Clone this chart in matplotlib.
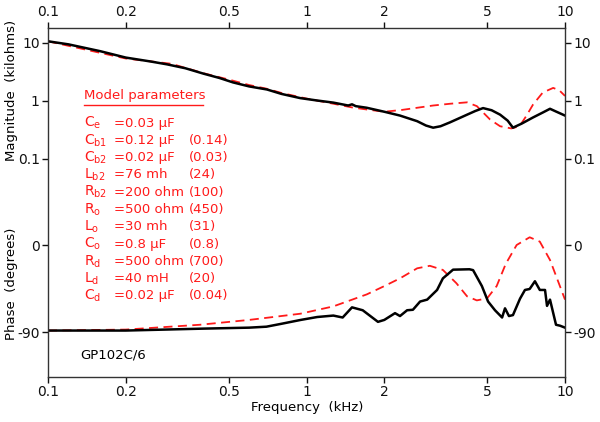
import numpy as np
import matplotlib.pyplot as plt
from matplotlib.ticker import NullLocator
from matplotlib.lines import Line2D

# magnitude, measured (kHz, kilohms)
mag_freq = [0.1, 0.12, 0.159, 0.2, 0.25, 0.289, 0.34, 0.4, 0.46, 0.52, 0.6, 0.703, 0.8, 0.946,
            1.1, 1.27, 1.45, 1.5, 1.55, 1.71, 2.0, 2.3, 2.68, 2.9, 3.09, 3.3, 3.59, 4.18, 4.5, 4.82,
            5.2, 5.61, 6.0, 6.29, 6.8, 7.52, 8.2, 8.75, 9.2, 10.0]
mag_meas = [10.5, 9.3, 7.1, 5.5, 4.7, 4.2, 3.6, 2.9, 2.45, 2.05, 1.75, 1.55, 1.3, 1.1,
            1.0, 0.92, 0.82, 0.86, 0.8, 0.75, 0.64, 0.55, 0.44, 0.37, 0.34, 0.36, 0.42, 0.57, 0.66, 0.74,
            0.68, 0.57, 0.45, 0.34, 0.4, 0.51, 0.62, 0.72, 0.65, 0.55]

# magnitude, model
magm_freq = [0.1, 0.2, 0.3, 0.4, 0.5, 0.6, 0.7, 0.8, 1.0, 1.27, 1.5, 1.71, 2.0, 2.35, 2.68, 3.09,
             3.6, 4.18, 4.56, 5.13, 5.61, 6.2, 6.67, 7.1, 7.52, 8.2, 9.0, 9.5, 10.0]
mag_model = [10.5, 5.3, 4.3, 2.95, 2.3, 1.85, 1.6, 1.35, 1.08, 0.88, 0.76, 0.7, 0.64, 0.69, 0.75, 0.82,
             0.88, 0.93, 0.8, 0.47, 0.36, 0.33, 0.36, 0.55, 0.85, 1.37, 1.65, 1.5, 1.2]

# phase, measured (degrees)
ph_freq = [0.1, 0.2, 0.4, 0.6, 0.7, 0.8, 0.95, 1.1, 1.27, 1.38, 1.5, 1.65, 1.89, 2.0, 2.2, 2.3,
           2.45, 2.58, 2.75, 2.93, 3.2, 3.37, 3.69, 4.27, 4.41, 4.77, 5.04, 5.36, 5.71, 5.86, 6.07,
           6.29, 6.7, 7.0, 7.3, 7.65, 7.99, 8.37, 8.52, 8.75, 9.23, 9.57, 10.0]
ph_meas = [-88, -88, -86, -85, -84, -81, -77, -74, -72.5, -74.5, -64, -67, -79, -77, -70, -73,
           -67, -66.5, -58, -56, -46, -34, -25, -24.6, -25.5, -42, -58, -67, -74.5, -65, -73,
           -72, -55, -46, -45, -37, -46, -46, -62.5, -56, -82, -83, -85]

# phase, model
phm_freq = [0.1, 0.2, 0.387, 0.6, 0.946, 1.27, 1.71, 2.0, 2.3, 2.68, 3.0, 3.37, 3.8, 4.18,
            4.56, 5.0, 5.44, 5.9, 6.5, 7.3, 7.99, 8.75, 9.25, 10.0]
ph_model = [-88, -87, -82, -77, -70.6, -63, -50.6, -42, -34, -23.6, -21, -25.3, -39, -52.6,
            -56.8, -54.6, -42, -19, 0.5, 8.5, 4.0, -15, -32, -56]

par_sym = ['C', 'C', 'C', 'L', 'R', 'R', 'L', 'C', 'R', 'L', 'C']
par_sub = ['e', 'b1', 'b2', 'b2', 'b2', 'o', 'o', 'o', 'd', 'd', 'd']
par_val = ['=0.03 μF', '=0.12 μF', '=0.02 μF', '=76 mh', '=200 ohm', '=500 ohm',
           '=30 mh', '=0.8 μF', '=500 ohm', '=40 mH', '=0.02 μF']
par_fit = ['', '(0.14)', '(0.03)', '(24)', '(100)', '(450)', '(31)', '(0.8)', '(700)', '(20)', '(0.04)']

xticks = [0.1, 0.2, 0.5, 1, 2, 5, 10]
xlabels = ['0.1', '0.2', '0.5', '1', '2', '5', '10']
mag_ticks = [10, 1, 0.1]
ph_ticks = [0, -90]


def ph_y(p):
    # phase stacked below magnitude: 90 degrees = 1.5 decades
    return -2.5 + np.asarray(p, dtype=float) / 60.0


W, H = 600, 422
plt.rcParams['mathtext.fontset'] = 'dejavusans'
fig = plt.figure(figsize=(W / 100, H / 100), dpi=100)
ax = fig.add_axes([48 / W, 1 - 376.5 / H, 517 / W, 349 / H])
ax.set_xscale('log')
ax.set_xlim(0.1, 10)
ax.set_ylim(-4.759, 1.259)

red = '#ff1a1a'
ax.plot(magm_freq, np.log10(mag_model), color=red, lw=1.3, ls=(0, (5, 3)))
ax.plot(mag_freq, np.log10(mag_meas), color='black', lw=1.8)
ax.plot(phm_freq, ph_y(ph_model), color=red, lw=1.3, ls=(0, (5, 3)))
ax.plot(ph_freq, ph_y(ph_meas), color='black', lw=1.8)

ax.set_xticks(xticks)
ax.set_xticklabels(xlabels)
ax.xaxis.set_minor_locator(NullLocator())
yt = list(np.log10(mag_ticks)) + list(ph_y(ph_ticks))
ax.set_yticks(yt)
ax.set_yticklabels([str(m) for m in mag_ticks] + [str(p) for p in ph_ticks])
ax.tick_params(top=True, labeltop=True, right=True, labelright=True,
               direction='out', length=4, width=1, labelsize=10, pad=2, colors='#111111')
for s in ax.spines.values():
    s.set_linewidth(1.0)
    s.set_color('#333333')

fig.text(307 / W, 1 - 407 / H, 'Frequency  (kHz)', ha='center', va='center', fontsize=9.5)
fig.text(12 / W, 1 - 90 / H, 'Magnitude  (kilohms)', rotation=90, ha='center', va='center', fontsize=9.5)
fig.text(12 / W, 1 - 284 / H, 'Phase  (degrees)', rotation=90, ha='center', va='center', fontsize=9.5)
fig.text(80 / W, 1 - 355 / H, 'GP102C/6', ha='left', va='center', fontsize=9.5)

# model parameter block
fig.text(84 / W, 1 - 96 / H, 'Model parameters', color=red, ha='left', va='center', fontsize=9.5)
fig.add_artist(Line2D([84 / W, 203 / W], [1 - 105 / H, 1 - 105 / H], color=red, lw=1.0))
for i in range(len(par_sym)):
    y = 1 - (123 + 17.3 * i) / H
    fig.text(84 / W, y, par_sym[i] + r'$_\mathrm{' + par_sub[i] + '}$', color=red,
             ha='left', va='center', fontsize=10)
    fig.text(114 / W, y, par_val[i], color=red, ha='left', va='center', fontsize=9.5)
    fig.text(189 / W, y, par_fit[i], color=red, ha='left', va='center', fontsize=9.5)

fig.savefig('out.png', dpi=100)
